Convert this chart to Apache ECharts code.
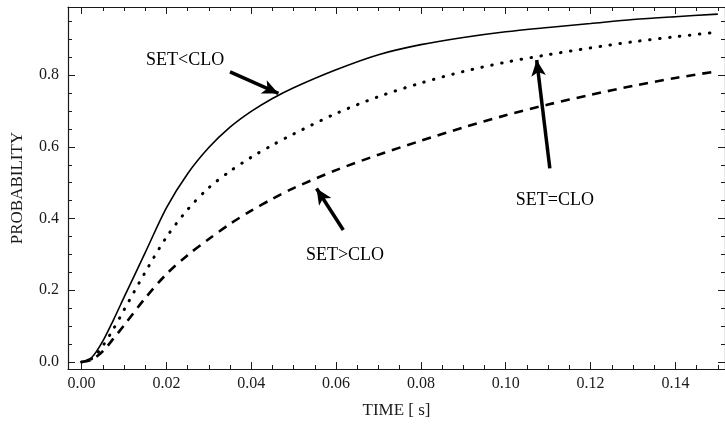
<!DOCTYPE html>
<html>
<head>
<meta charset="utf-8">
<script src="https://cdn.jsdelivr.net/npm/echarts@6/dist/echarts.min.js"></script>
<style>
	html, body { margin: 0; padding: 0; background: #fff; }
	#chart { width: 725px; height: 424px; }
</style>
</head>
<body>
<div id="chart"></div>
<script>
// values
var time = [0, 0.0025, 0.005, 0.0075, 0.01, 0.015, 0.02, 0.025, 0.03, 0.035, 0.04, 0.045, 0.05,
	0.06, 0.07, 0.08, 0.09, 0.10, 0.11, 0.12, 0.13, 0.14, 0.15];
var setLess = [0, 0.014, 0.058, 0.117, 0.18, 0.305, 0.43, 0.525, 0.598, 0.655, 0.699, 0.735, 0.765,
	0.815, 0.857, 0.885, 0.905, 0.921, 0.933, 0.944, 0.955, 0.963, 0.970];
var setEqual = [0, 0.01, 0.045, 0.092, 0.145, 0.25, 0.348, 0.425, 0.486, 0.532, 0.571, 0.605, 0.636,
	0.693, 0.740, 0.778, 0.810, 0.836, 0.857, 0.876, 0.893, 0.907, 0.920];
var setGreater = [0, 0.007, 0.03, 0.065, 0.102, 0.178, 0.245, 0.298, 0.343, 0.385, 0.422, 0.455, 0.485,
	0.535, 0.578, 0.617, 0.654, 0.688, 0.718, 0.745, 0.77, 0.792, 0.811];

var xTicks = [0, 0.02, 0.04, 0.06, 0.08, 0.10, 0.12, 0.14];
var yTicks = [0, 0.2, 0.4, 0.6, 0.8];

// annotations: label position, arrow tail, arrow tip (data coords)
var notes = [
	{ name: 'SET<CLO', label: [0.0244, 0.842], from: [0.0350, 0.809], to: [0.0464, 0.749] },
	{ name: 'SET>CLO', label: [0.0621, 0.298], from: [0.0617, 0.368], to: [0.0554, 0.484] },
	{ name: 'SET=CLO', label: [0.1116, 0.452], from: [0.1104, 0.540], to: [0.1073, 0.842] }
];

var XMIN = -0.0032, XMAX = 0.1517, YMIN = -0.0195, YMAX = 0.99;
var FONT = 'Liberation Serif';
var INK = '#1a1a1a';

function minorOf(step, from, to) {
	var out = [];
	for (var v = from; v <= to + 1e-9; v += step) out.push(+v.toFixed(4));
	return out;
}
var xMinor = minorOf(0.005, 0, 0.15);
var yMinor = minorOf(0.05, 0, 0.95);

function pairs(ys) {
	return time.map(function (t, i) { return [t, ys[i]]; });
}

function xAxisDef(pos, ticks, len, main) {
	return {
		type: 'value', position: pos, min: XMIN, max: XMAX,
		axisLine: { show: main, onZero: false, lineStyle: { color: INK, width: 1.2 } },
		axisTick: { show: true, inside: true, length: len, customValues: ticks, lineStyle: { color: INK, width: 1 } },
		axisLabel: {
			show: main && pos === 'bottom', customValues: xTicks, margin: 7,
			color: INK, fontFamily: FONT, fontSize: 16,
			formatter: function (v) { return v.toFixed(2); }
		},
		splitLine: { show: false },
		name: main && pos === 'bottom' ? 'TIME [ s]' : '',
		nameLocation: 'middle', nameGap: 33,
		nameTextStyle: { color: INK, fontFamily: FONT, fontSize: 17 }
	};
}

function yAxisDef(pos, ticks, len, main) {
	return {
		type: 'value', position: pos, min: YMIN, max: YMAX,
		axisLine: { show: main, onZero: false, lineStyle: { color: INK, width: 1.2 } },
		axisTick: { show: true, inside: true, length: len, customValues: ticks, lineStyle: { color: INK, width: 1 } },
		axisLabel: {
			show: main && pos === 'left', customValues: yTicks, margin: 9,
			color: INK, fontFamily: FONT, fontSize: 16,
			formatter: function (v) { return v.toFixed(1); }
		},
		splitLine: { show: false },
		name: main && pos === 'left' ? 'PROBABILITY' : '',
		nameLocation: 'middle', nameGap: 42,
		nameTextStyle: { color: INK, fontFamily: FONT, fontSize: 17 }
	};
}

var arrowLines = notes.map(function (n) {
	return [{ coord: n.from }, { coord: n.to }];
});
var labelPoints = notes.map(function (n) {
	return { name: n.name, coord: n.label };
});

var option = {
	animation: false,
	backgroundColor: '#fff',
	grid: { left: 68, right: 0, top: 7, bottom: 55 },
	xAxis: [
		xAxisDef('bottom', xTicks, 7, true),
		xAxisDef('bottom', xMinor, 4, false),
		xAxisDef('top', xTicks, 7, true),
		xAxisDef('top', xMinor, 4, false)
	],
	yAxis: [
		yAxisDef('left', yTicks, 7, true),
		yAxisDef('left', yMinor, 4, false),
		yAxisDef('right', yTicks, 7, true),
		yAxisDef('right', yMinor, 4, false)
	],
	series: [{
		name: 'SET<CLO', type: 'line', data: pairs(setLess),
		showSymbol: false, smooth: 0.3,
		lineStyle: { color: '#000', width: 1.6 },
		markLine: {
			silent: true, symbol: ['none', 'arrow'], symbolSize: [11, 16],
			label: { show: false },
			lineStyle: { color: '#000', width: 3.5, type: 'solid' },
			data: arrowLines
		},
		markPoint: {
			silent: true, symbol: 'circle', symbolSize: 1,
			itemStyle: { color: 'rgba(0,0,0,0)' },
			label: {
				show: true, position: 'inside', formatter: '{b}',
				color: '#000', fontFamily: FONT, fontSize: 18
			},
			data: labelPoints
		}
	}, {
		name: 'SET=CLO', type: 'line', data: pairs(setEqual),
		showSymbol: false, smooth: 0.3,
		lineStyle: { color: '#000', width: 3, type: [0.5, 9.5], cap: 'round' }
	}, {
		name: 'SET>CLO', type: 'line', data: pairs(setGreater),
		showSymbol: false, smooth: 0.3,
		lineStyle: { color: '#000', width: 2.6, type: [9, 7] }
	}]
};

var chart = echarts.init(document.getElementById('chart'), null, { renderer: 'canvas' });
chart.setOption(option);
</script>
</body>
</html>
